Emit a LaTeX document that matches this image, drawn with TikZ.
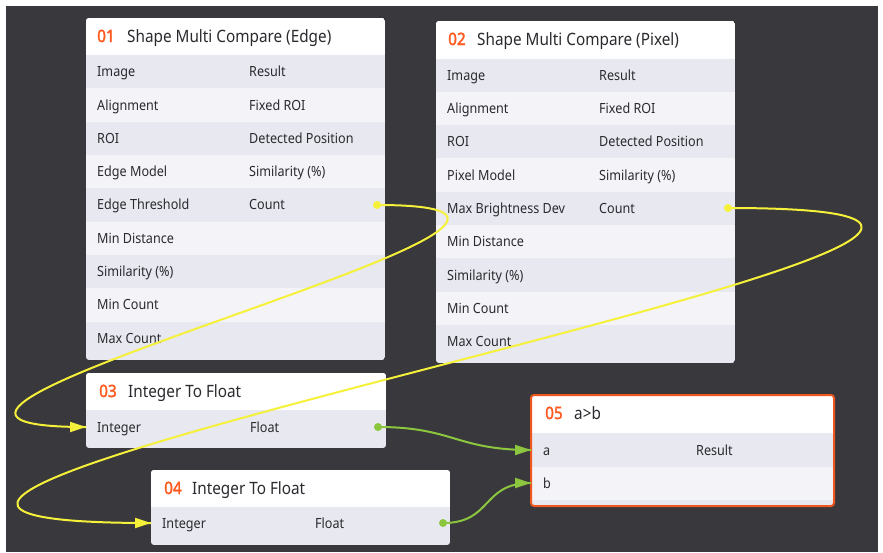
\documentclass[tikz,border=0pt]{standalone}
\usepackage{fontspec}
\setmainfont{Noto Sans}[FakeStretch=0.9]
\newfontfamily\numfont{Noto Sans}[FakeStretch=0.9,FakeBold=2]
\usetikzlibrary{arrows.meta}
\definecolor{bg}{HTML}{39383D}
\definecolor{rowA}{HTML}{E8E8F0}
\definecolor{rowB}{HTML}{F4F4F8}
\definecolor{numc}{HTML}{FF5A1F}
\definecolor{txt}{HTML}{2A2A2F}
\definecolor{wireY}{HTML}{F5F03A}
\definecolor{wireG}{HTML}{8CC63F}
\definecolor{sel}{HTML}{F0561E}
\newcommand\rowfont{\fontsize{14}{16}\selectfont}
\newcommand\headfont{\fontsize{17}{20}\selectfont}
% panel: x1,y1,x2,y2,header bottom,list of even row indices,row height
\newcommand\panelbg[7]{%
  \begin{scope}
    \clip[rounded corners=3pt] (#1,#2) rectangle (#3,#4);
    \fill[rowA] (#1,#2) rectangle (#3,#4);
    \fill[white] (#1,#2) rectangle (#3,#5);
    \foreach \k in {#6} {\fill[rowB] (#1,{#5+(\k-1)*#7}) rectangle (#3,{#5+\k*#7});}
  \end{scope}}
\begin{document}
\begin{tikzpicture}[x=1pt,y=-1pt,
  rowtext/.style={anchor=base west,inner sep=0,font=\rowfont,text=txt},
  headnum/.style={anchor=base west,inner sep=0,font=\numfont\headfont,text=numc},
  headtext/.style={anchor=base west,inner sep=0,font=\headfont,text=txt},
  boxnode/.style={anchor=north west,inner sep=0,draw=none},
  ywire/.style={draw=wireY,line width=2pt},
  gwire/.style={draw=wireG,line width=2pt},
  ytip/.style={draw=wireY,line width=2pt,-{Triangle[length=16pt,width=10pt]}},
  gtip/.style={draw=wireG,line width=2pt,-{Triangle[length=16pt,width=10pt]}}]
\useasboundingbox (0,0) rectangle (883,552);
\fill[white] (0,0) rectangle (883,552);
\fill[bg] (6,6) rectangle (878,552);

% ---------- 01 ----------
\panelbg{86}{18}{385}{360}{55}{2,4,6,8}{33.33}
\node[boxnode,minimum width=299pt,minimum height=342pt] (n1) at (86,18) {};
\node[headnum] (n1num) at (97,42) {01};
\node[headtext] (n1title) at (127,42) {Shape Multi Compare (Edge)};
\foreach \t [count=\k] in {Image,Alignment,ROI,Edge Model,Edge Threshold,Min Distance,Similarity (\%),Min Count,Max Count}
  \node[rowtext] (n1l\k) at (97,{71.67+(\k-1)*33.33+5}) {\t};
\foreach \t [count=\k] in {Result,Fixed ROI,Detected Position,Similarity (\%),Count}
  \node[rowtext] (n1r\k) at (249,{71.67+(\k-1)*33.33+5}) {\t};
\coordinate (o1) at (377,205);

% ---------- 02 ----------
\panelbg{436}{21}{735}{363}{58.5}{2,4,6,8}{33.33}
\node[boxnode,minimum width=299pt,minimum height=342pt] (n2) at (436,21) {};
\node[headnum] (n2num) at (448,45) {02};
\node[headtext] (n2title) at (477,45) {Shape Multi Compare (Pixel)};
\foreach \t [count=\k] in {Image,Alignment,ROI,Pixel Model,Max Brightness Dev,Min Distance,Similarity (\%),Min Count,Max Count}
  \node[rowtext] (n2l\k) at (447,{75.17+(\k-1)*33.33+5}) {\t};
\foreach \t [count=\k] in {Result,Fixed ROI,Detected Position,Similarity (\%),Count}
  \node[rowtext] (n2r\k) at (599,{75.17+(\k-1)*33.33+5}) {\t};
\coordinate (o2) at (728,208);

% ---------- 03 ----------
\panelbg{86}{373}{386}{448}{410}{0}{0}
\node[boxnode,minimum width=300pt,minimum height=75pt] (n3) at (86,373) {};
\node[headnum] (n3num) at (99,397) {03};
\node[headtext] (n3title) at (128,397) {Integer To Float};
\node[rowtext] (n3l) at (97,432) {Integer};
\node[rowtext] (n3r) at (250,432) {Float};
\coordinate (i3) at (86,427);
\coordinate (o3) at (378,427);

% ---------- 04 ----------
\panelbg{151}{470}{450}{545}{507}{0}{0}
\node[boxnode,minimum width=299pt,minimum height=75pt] (n4) at (151,470) {};
\node[headnum] (n4num) at (164,494) {04};
\node[headtext] (n4title) at (192,494) {Integer To Float};
\node[rowtext] (n4l) at (162,528) {Integer};
\node[rowtext] (n4r) at (315,528) {Float};
\coordinate (i4) at (151,523);
\coordinate (o4) at (443,523);

% ---------- 05 ----------
\panelbg{531}{395}{834}{506}{433}{2}{33.5}
\draw[sel,line width=2pt,rounded corners=3pt] (531,395) rectangle (834,506);
\node[boxnode,minimum width=303pt,minimum height=111pt] (n5) at (531,395) {};
\node[headnum] (n5num) at (545,419) {05};
\node[headtext] (n5title) at (574,419) {a>b};
\node[rowtext] (n5l1) at (543,455) {a};
\node[rowtext] (n5r1) at (696,455) {Result};
\node[rowtext] (n5l2) at (543,488.5) {b};
\coordinate (i5a) at (531,450);
\coordinate (i5b) at (531,483);

% ---------- wires ----------
\draw[ywire] (o1) .. controls +(330,0) and +(-330,0) .. (i3);
\draw[ywire] (o2) .. controls +(630,0) and +(-630,0) .. (i4);
\draw[gwire] (o3) .. controls +(75,0) and +(-75,0) .. (i5a);
\draw[gwire] (o4) .. controls +(50,0) and +(-50,0) .. (i5b);
\foreach \p in {i3,i4} \draw[ytip] ([xshift=-16pt]\p) -- (\p);
\foreach \p in {i5a,i5b} \draw[gtip] ([xshift=-16pt]\p) -- (\p);
\foreach \p in {o1,o2} \fill[wireY] (\p) circle (4);
\foreach \p in {o3,o4} \fill[wireG] (\p) circle (4);
\end{tikzpicture}
\end{document}
